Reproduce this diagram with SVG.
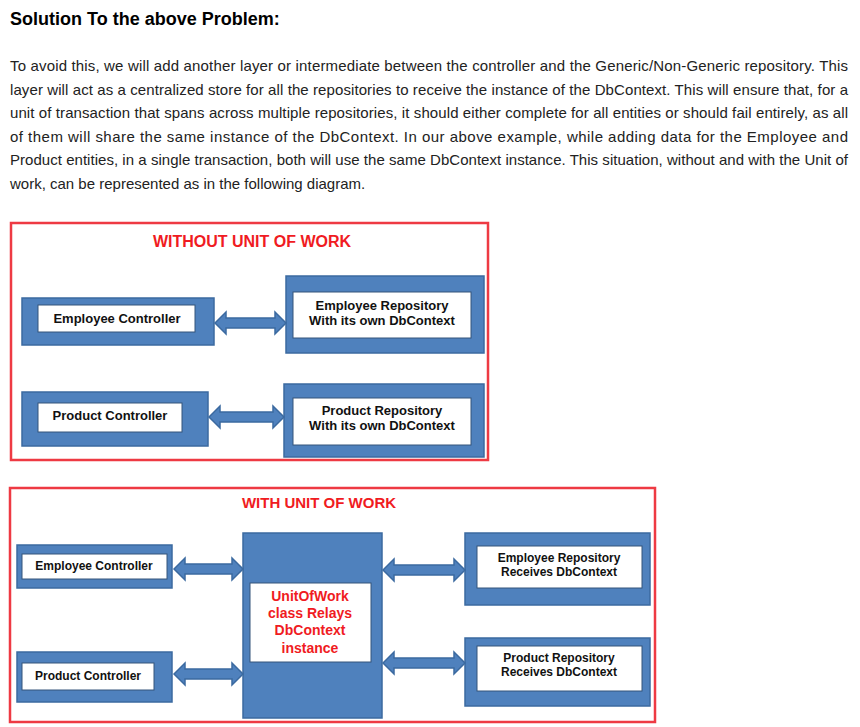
<svg xmlns="http://www.w3.org/2000/svg" width="860" height="727" viewBox="0 0 860 727">
<defs>
<style>
.bg{fill:#ffffff}
.h{font-family:"Liberation Sans",Arial,sans-serif;font-weight:bold;font-size:18px;fill:#000}
.p{font-family:"Liberation Sans",Arial,sans-serif;font-size:15px;fill:#222}
.frame{fill:none;stroke:#ee3a43;stroke-width:2.5}
.ttl{font-family:"Liberation Sans",Arial,sans-serif;font-weight:bold;font-size:16px;fill:#f01b22;text-anchor:middle}
.outer{fill:#4f81bd;stroke:#3b6aa0;stroke-width:1.5}
.inner{fill:#ffffff;stroke:#35557a;stroke-width:1}
.lbl{font-family:"Liberation Sans",Arial,sans-serif;font-weight:bold;font-size:13px;fill:#111;text-anchor:middle}
.lbs{font-family:"Liberation Sans",Arial,sans-serif;font-weight:bold;font-size:12px;fill:#111;text-anchor:middle}
.uow{font-family:"Liberation Sans",Arial,sans-serif;font-weight:bold;font-size:14px;fill:#f01b22;text-anchor:middle}
.arr{fill:#4f81bd;stroke:#3b6aa0;stroke-width:1.5;stroke-linejoin:miter}
</style>
</defs>
<rect class="bg" x="0" y="0" width="860" height="727"/>
<text class="h" x="10" y="25">Solution To the above Problem:</text>
<g id="paragraph">
<text class="p" x="10" y="71" textLength="838" lengthAdjust="spacing">To avoid this, we will add another layer or intermediate between the controller and the Generic/Non-Generic repository. This</text>
<text class="p" x="10" y="95" textLength="838" lengthAdjust="spacing">layer will act as a centralized store for all the repositories to receive the instance of the DbContext. This will ensure that, for a</text>
<text class="p" x="10" y="118" textLength="838" lengthAdjust="spacing">unit of transaction that spans across multiple repositories, it should either complete for all entities or should fail entirely, as all</text>
<text class="p" x="10" y="142" textLength="838" lengthAdjust="spacing">of them will share the same instance of the DbContext. In our above example, while adding data for the Employee and</text>
<text class="p" x="10" y="165" textLength="838" lengthAdjust="spacing">Product entities, in a single transaction, both will use the same DbContext instance. This situation, without and with the Unit of</text>
<text class="p" x="10" y="189">work, can be represented as in the following diagram.</text>
</g>

<g id="without-frame">
<rect class="frame" x="11" y="223" width="477" height="237"/>
<text class="ttl" x="252" y="247">WITHOUT UNIT OF WORK</text>
</g>
<g id="emp-ctrl-1">
<rect class="outer" x="22" y="298" width="192" height="47"/>
<rect class="inner" x="38" y="305" width="157" height="27"/>
<text class="lbl" x="117" y="323">Employee Controller</text>
</g>
<g id="emp-repo-1">
<rect class="outer" x="286" y="276" width="198" height="77"/>
<rect class="inner" x="293" y="292" width="178" height="46"/>
<text class="lbl" x="382" y="310">Employee Repository</text>
<text class="lbl" x="382" y="325">With its own DbContext</text>
</g>
<g id="prod-ctrl-1">
<rect class="outer" x="22" y="392" width="186" height="54"/>
<rect class="inner" x="38" y="403" width="144" height="29"/>
<text class="lbl" x="110" y="420">Product Controller</text>
</g>
<g id="prod-repo-1">
<rect class="outer" x="284" y="384" width="200" height="73"/>
<rect class="inner" x="293" y="398" width="178" height="47"/>
<text class="lbl" x="382" y="415">Product Repository</text>
<text class="lbl" x="382" y="430">With its own DbContext</text>
</g>

<g id="with-frame">
<rect class="frame" x="10" y="488" width="645" height="234"/>
<text class="ttl" x="319" y="508" style="font-size:15px">WITH UNIT OF WORK</text>
</g>
<g id="emp-ctrl-2">
<rect class="outer" x="17" y="545" width="155" height="43"/>
<rect class="inner" x="22" y="554" width="145" height="25"/>
<text class="lbs" x="94" y="570">Employee Controller</text>
</g>
<g id="prod-ctrl-2">
<rect class="outer" x="17" y="652" width="155" height="50"/>
<rect class="inner" x="22" y="663" width="132" height="27"/>
<text class="lbs" x="88" y="680">Product Controller</text>
</g>
<g id="unit-of-work">
<rect class="outer" x="243" y="533" width="139" height="185"/>
<rect class="inner" x="250" y="583" width="121" height="79"/>
<text class="uow" x="310" y="601">UnitOfWork</text>
<text class="uow" x="310" y="618">class Relays</text>
<text class="uow" x="310" y="635">DbContext</text>
<text class="uow" x="310" y="653">instance</text>
</g>
<g id="emp-repo-2">
<rect class="outer" x="465" y="533" width="185" height="72"/>
<rect class="inner" x="477" y="546" width="165" height="42"/>
<text class="lbs" x="559" y="562">Employee Repository</text>
<text class="lbs" x="559" y="576">Receives DbContext</text>
</g>
<g id="prod-repo-2">
<rect class="outer" x="465" y="638" width="185" height="68"/>
<rect class="inner" x="477" y="646" width="165" height="45"/>
<text class="lbs" x="559" y="662">Product Repository</text>
<text class="lbs" x="559" y="676">Receives DbContext</text>
</g>

<g id="connectors">
<path class="arr" d="M215,323 L226,312 L226,318 L275,318 L275,312 L286,323 L275,334 L275,328 L226,328 L226,334 Z"/>
<path class="arr" d="M209,417 L220,406 L220,412 L273,412 L273,406 L284,417 L273,428 L273,422 L220,422 L220,428 Z"/>
<path class="arr" d="M174,569 L185,558 L185,564 L232,564 L232,558 L243,569 L232,580 L232,574 L185,574 L185,580 Z"/>
<path class="arr" d="M174,674 L185,663 L185,669 L232,669 L232,663 L243,674 L232,685 L232,679 L185,679 L185,685 Z"/>
<path class="arr" d="M383,570 L394,559 L394,565 L454,565 L454,559 L465,570 L454,581 L454,575 L394,575 L394,581 Z"/>
<path class="arr" d="M383,663 L394,652 L394,658 L454,658 L454,652 L465,663 L454,674 L454,668 L394,668 L394,674 Z"/>
</g>
</svg>
